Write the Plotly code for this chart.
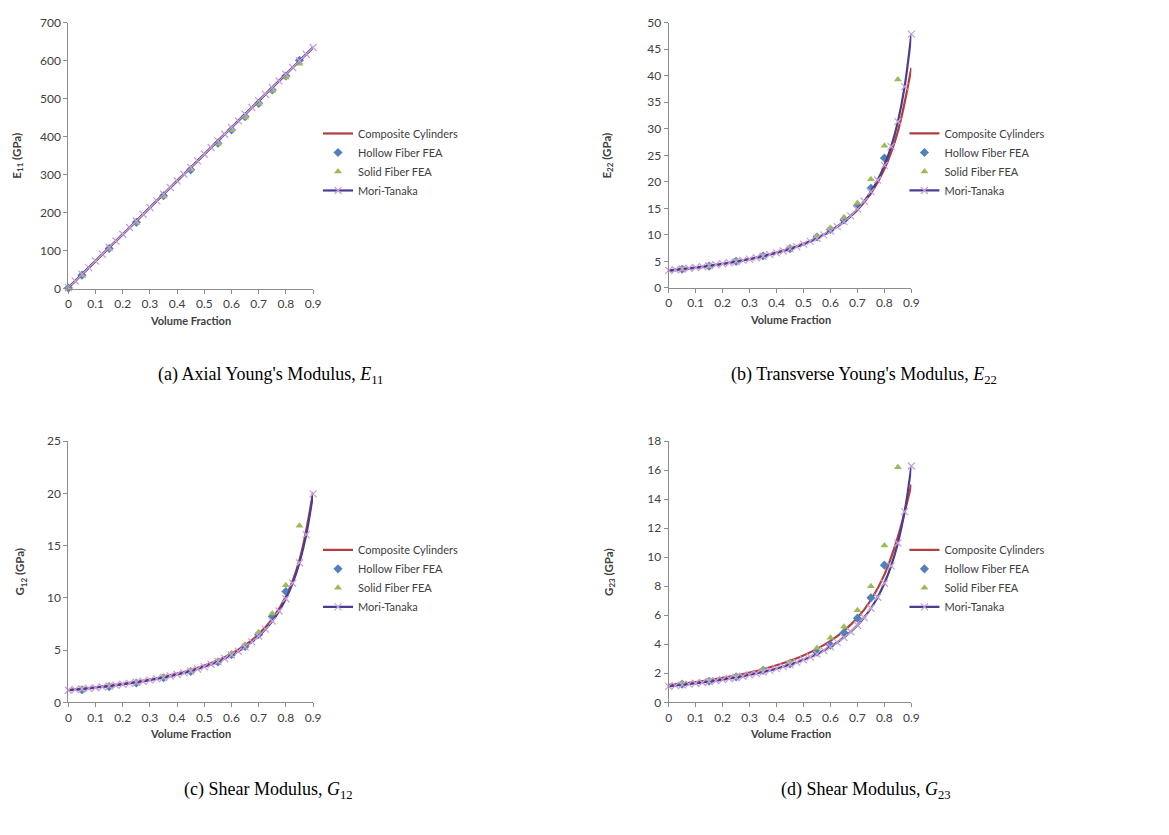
import plotly.graph_objects as go

# ---------------- data ----------------
# volume-fraction grids
vf_mt = [0, 0.025, 0.05, 0.075, 0.1, 0.125, 0.15, 0.175, 0.2, 0.225, 0.25, 0.275,
         0.3, 0.325, 0.35, 0.375, 0.4, 0.425, 0.45, 0.475, 0.5, 0.525, 0.55, 0.575,
         0.6, 0.625, 0.65, 0.675, 0.7, 0.725, 0.75, 0.775, 0.8, 0.825, 0.85, 0.875, 0.9]
vf_cc = [0, 0.05, 0.1, 0.15, 0.2, 0.25, 0.3, 0.35, 0.4, 0.45, 0.5, 0.55, 0.6, 0.65,
         0.7, 0.75, 0.8, 0.85, 0.9]
vf_fea_a = [0, 0.05, 0.15, 0.25, 0.35, 0.45, 0.55, 0.6, 0.65, 0.7, 0.75, 0.8, 0.85]
vf_fea = [0.05, 0.15, 0.25, 0.35, 0.45, 0.55, 0.6, 0.65, 0.7, 0.75, 0.8, 0.85]
vf_hollow = [0.05, 0.15, 0.25, 0.35, 0.45, 0.55, 0.6, 0.65, 0.7, 0.75, 0.8]

# (a) E11 (GPa)
e11_cc = [3.3, 38.4, 73.5, 108.6, 143.6, 178.7, 213.8, 248.9, 284.0, 319.1, 354.2,
          389.2, 424.3, 459.4, 494.5, 529.6, 564.7, 599.8, 634.8]
e11_hollow = [2, 36, 106, 175, 245, 313, 383, 418, 453, 488, 523, 560, 601]
e11_solid = [2, 35, 105, 174, 243, 314, 382, 417, 451, 487, 521, 556, 592]
e11_mt = [3.3, 20.8, 38.4, 55.9, 73.5, 91.0, 108.6, 126.1, 143.6, 161.2, 178.7, 196.3,
          213.8, 231.4, 248.9, 266.4, 284.0, 301.5, 319.1, 336.6, 354.2, 371.7, 389.2,
          406.8, 424.3, 441.9, 459.4, 477.0, 494.5, 512.0, 529.6, 547.1, 564.7, 582.2,
          599.8, 617.3, 634.8]

# (b) E22 (GPa)
e22_cc = [3.2, 3.45, 3.75, 4.1, 4.5, 4.95, 5.45, 6.0, 6.65, 7.4, 8.3, 9.4, 10.75, 12.5,
          14.7, 17.8, 22.4, 29.5, 41.5]
e22_hollow = [3.5, 4.1, 5.0, 6.0, 7.4, 9.6, 11.0, 12.8, 15.5, 18.8, 24.5]
e22_solid = [3.5, 4.1, 5.0, 6.0, 7.5, 9.7, 11.3, 13.3, 16.0, 20.5, 26.8, 39.3]
e22_mt = [3.30, 3.43, 3.56, 3.70, 3.85, 4.01, 4.17, 4.35, 4.54, 4.74, 4.95, 5.18,
          5.42, 5.68, 5.97, 6.27, 6.60, 6.96, 7.35, 7.78, 8.25, 8.77, 9.35, 10.00,
          10.73, 11.55, 12.49, 13.58, 14.85, 16.35, 18.15, 20.35, 23.10, 26.64, 31.35,
          37.95, 47.85]

# (c) G12 (GPa)
g12_cc = [1.18, 1.30, 1.44, 1.59, 1.77, 1.96, 2.18, 2.44, 2.74, 3.09, 3.51, 4.02, 4.65,
          5.46, 6.52, 7.98, 10.12, 13.62, 20.1]
g12_hollow = [1.2, 1.5, 1.85, 2.35, 2.95, 3.85, 4.55, 5.35, 6.5, 8.2, 10.6]
g12_solid = [1.25, 1.55, 1.9, 2.4, 3.05, 3.95, 4.7, 5.5, 6.7, 8.5, 11.2, 16.9]
g12_mt = [1.15, 1.21, 1.27, 1.33, 1.40, 1.48, 1.55, 1.63, 1.72, 1.81, 1.91, 2.01,
          2.12, 2.24, 2.37, 2.51, 2.66, 2.82, 3.00, 3.19, 3.41, 3.64, 3.90, 4.19,
          4.52, 4.88, 5.30, 5.78, 6.34, 7.00, 7.78, 8.73, 9.91, 11.40, 13.36, 16.05,
          19.95]

# (d) G23 (GPa)
g23_cc = [1.2, 1.29, 1.40, 1.53, 1.68, 1.85, 2.05, 2.28, 2.55, 2.86, 3.23, 3.68, 4.23,
          4.92, 5.82, 7.05, 8.8, 11.4, 15.0]
g23_hollow = [1.25, 1.45, 1.75, 2.2, 2.65, 3.45, 3.95, 4.8, 5.8, 7.2, 9.45]
g23_solid = [1.3, 1.5, 1.8, 2.25, 2.8, 3.75, 4.45, 5.2, 6.35, 8.0, 10.8, 16.2]
g23_mt = [1.10, 1.15, 1.20, 1.25, 1.31, 1.36, 1.43, 1.49, 1.56, 1.64, 1.71, 1.80,
          1.89, 1.99, 2.09, 2.20, 2.32, 2.46, 2.60, 2.76, 2.93, 3.12, 3.33, 3.57,
          3.83, 4.13, 4.47, 4.86, 5.31, 5.84, 6.48, 7.24, 8.20, 9.40, 10.98, 13.14,
          16.28]

# axis tick settings
x_ticks = [0, 0.1, 0.2, 0.3, 0.4, 0.5, 0.6, 0.7, 0.8, 0.9]
y_max = [700, 50, 25, 18]
y_step = [100, 5, 5, 2]

series_names = ["Composite Cylinders", "Hollow Fiber FEA", "Solid Fiber FEA", "Mori-Tanaka"]
y_titles = ["E<sub>11</sub> (GPa)", "E<sub>22</sub> (GPa)",
            "G<sub>12</sub> (GPa)", "G<sub>23</sub> (GPa)"]
captions = ["(a) Axial Young's Modulus, <i>E</i><sub>11</sub>",
            "(b) Transverse Young's Modulus, <i>E</i><sub>22</sub>",
            "(c) Shear Modulus, <i>G</i><sub>12</sub>",
            "(d) Shear Modulus, <i>G</i><sub>23</sub>"]

panels = [
    (e11_cc, vf_fea_a, e11_hollow, vf_fea_a, e11_solid, e11_mt),
    (e22_cc, vf_hollow, e22_hollow, vf_fea, e22_solid, e22_mt),
    (g12_cc, vf_hollow, g12_hollow, vf_fea, g12_solid, g12_mt),
    (g23_cc, vf_hollow, g23_hollow, vf_fea, g23_solid, g23_mt),
]

# ---------------- styling / layout ----------------
W, H = 1169, 835
C_CC = "#B43D3F"
C_HOL = "#4F81BD"
C_SOL = "#9BBB59"
C_MT = "#4A3C8E"
C_MT_MK = "#C7A2DA"
AXIS = "#8C8C8C"
TXT = "#404040"
SANS = "Lato, 'Open Sans', sans-serif"
SERIF = "'Liberation Serif', 'DejaVu Serif', serif"

# pixel boxes of each plot area: (x0, x1, y_top, y_bottom)
boxes = [(66, 313, 15, 286), (672, 917, 15, 285),
         (66, 313, 441, 707), (672, 917, 441, 707)]
legend_pos = [(318, 113), (910, 113), (318, 537), (910, 537)]
ytitle_x = [15, 610, 18, 612]
caption_pos = [(270, 374), (869, 374), (268, 797), (871, 797)]

fig = go.Figure()
layout = dict(width=W, height=H, margin=dict(l=0, r=0, t=0, b=0),
              paper_bgcolor="white", plot_bgcolor="white", showlegend=True,
              annotations=[])

for i, (cc, xh, hol, xs, sol, mt) in enumerate(panels):
    n = "" if i == 0 else str(i + 1)
    xa, ya = "x" + n, "y" + n
    lg = "legend" + n
    common = dict(xaxis=xa, yaxis=ya, legend=lg, cliponaxis=False)
    fig.add_trace(go.Scatter(x=vf_cc, y=cc, mode="lines", name=series_names[0],
                             line=dict(color=C_CC, width=2.2, shape="spline"), **common))
    fig.add_trace(go.Scatter(x=xh, y=hol, mode="markers", name=series_names[1],
                             marker=dict(symbol="diamond", size=7, color=C_HOL), **common))
    fig.add_trace(go.Scatter(x=xs, y=sol, mode="markers", name=series_names[2],
                             marker=dict(symbol="triangle-up", size=7, color=C_SOL), **common))
    fig.add_trace(go.Scatter(x=vf_mt, y=mt, mode="lines+markers", name=series_names[3],
                             line=dict(color=C_MT, width=2.2, shape="spline"),
                             marker=dict(symbol="x-thin", size=7,
                                         line=dict(width=1.3, color=C_MT_MK)),
                             **common))

    x0, x1, yt, yb = boxes[i]
    axis_common = dict(showline=True, linecolor=AXIS, linewidth=1, ticks="outside",
                       ticklen=4, tickcolor=AXIS, showgrid=False, zeroline=False,
                       tickfont=dict(family=SANS, size=12, color=TXT), fixedrange=True)
    layout["xaxis" + n] = dict(domain=[x0 / W, x1 / W], range=[0, 0.9],
                               tickvals=x_ticks, ticktext=[f"{v:g}" for v in x_ticks],
                               anchor=ya, **axis_common)
    layout["yaxis" + n] = dict(domain=[1 - yb / H, 1 - yt / H], range=[0, y_max[i]],
                               dtick=y_step[i], tick0=0, anchor=xa, **axis_common)

    lx, ly = legend_pos[i]
    layout[lg] = dict(x=lx / W, y=1 - ly / H, xanchor="left", yanchor="top",
                      xref="paper", yref="paper", bgcolor="rgba(0,0,0,0)",
                      font=dict(family=SANS, size=11, color=TXT), itemwidth=30,
                      tracegroupgap=0)

    # axis titles
    layout["annotations"].append(dict(
        text="<b>Volume Fraction</b>", x=(x0 + x1) / 2 / W, y=1 - (yb + 32) / H,
        xref="paper", yref="paper", showarrow=False, xanchor="center", yanchor="middle",
        font=dict(family=SANS, size=11, color=TXT)))
    layout["annotations"].append(dict(
        text="<b>" + y_titles[i] + "</b>", x=ytitle_x[i] / W, y=1 - (yt + yb) / 2 / H,
        xref="paper", yref="paper", showarrow=False, textangle=-90,
        xanchor="center", yanchor="middle",
        font=dict(family=SANS, size=11.5, color=TXT)))
    # caption
    cx, cy = caption_pos[i]
    layout["annotations"].append(dict(
        text=captions[i], x=cx / W, y=1 - cy / H, xref="paper", yref="paper",
        showarrow=False, xanchor="center", yanchor="middle",
        font=dict(family=SERIF, size=18, color="black")))

fig.update_layout(**layout)
fig.write_html("out.html")
